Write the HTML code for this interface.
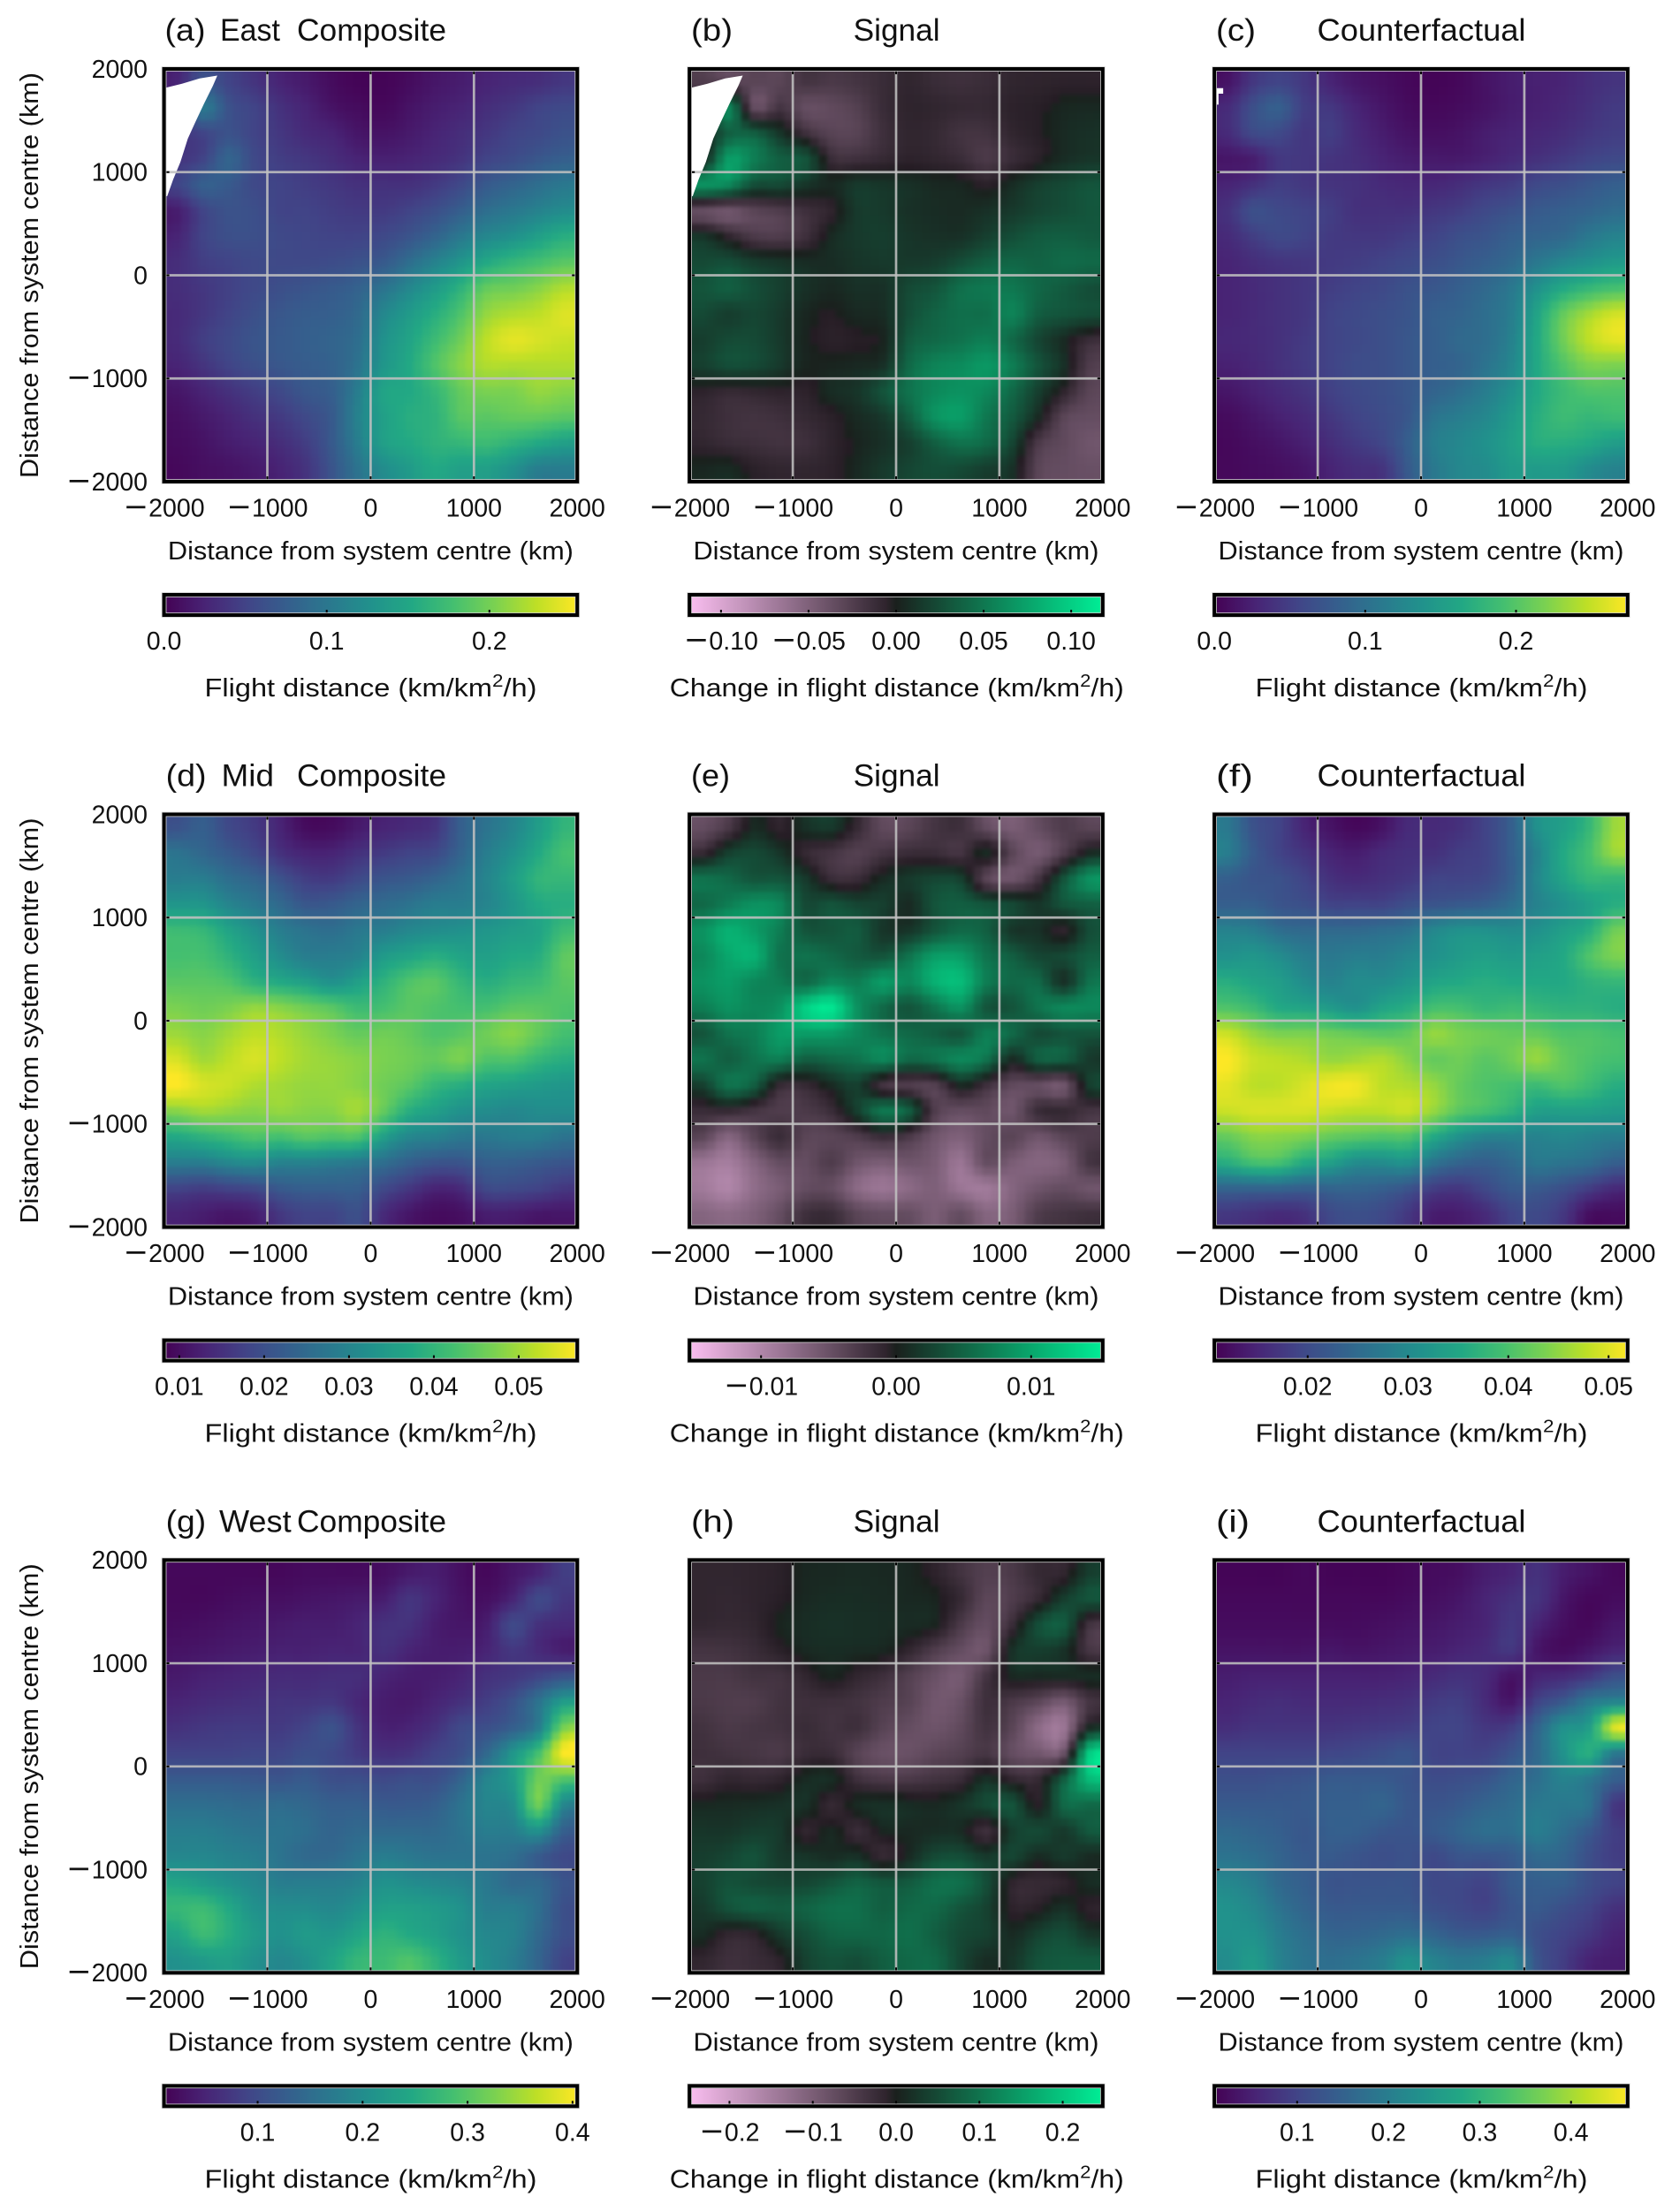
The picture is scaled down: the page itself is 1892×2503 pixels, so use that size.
<!DOCTYPE html>
<html lang="en">
<head>
<meta charset="utf-8">
<title>Flight distance composites</title>
<style>
html,body{margin:0;padding:0;background:#fff;}
svg{display:block;}
text{font-family:"Liberation Sans",sans-serif;fill:#111;}
.title{font-size:35px;}
.label{font-size:29px;}
.tick{font-size:28.5px;}
</style>
</head>
<body>
<svg id="figure" xmlns="http://www.w3.org/2000/svg" width="1892" height="2503" viewBox="0 0 1892 2503">
<rect x="0" y="0" width="1892" height="2503" fill="#fff"/>
<defs>
<filter id="soften" filterUnits="userSpaceOnUse" x="0" y="0" width="1892" height="2503" color-interpolation-filters="sRGB"><feGaussianBlur stdDeviation="2.5"/></filter>
</defs>
<g id="plots"></g>

<!-- Row 1 -->
<text class="title" x="186.5" y="46" textLength="46" lengthAdjust="spacingAndGlyphs">(a)</text>
<text class="title" x="249" y="46" textLength="68" lengthAdjust="spacingAndGlyphs">East</text>
<text class="title" x="336" y="46" textLength="169" lengthAdjust="spacingAndGlyphs">Composite</text>
<text class="title" x="782" y="46" textLength="47" lengthAdjust="spacingAndGlyphs">(b)</text>
<text class="title" x="965.6" y="46" textLength="98" lengthAdjust="spacingAndGlyphs">Signal</text>
<text class="title" x="1376" y="46" textLength="45" lengthAdjust="spacingAndGlyphs">(c)</text>
<text class="title" x="1490.5" y="46" textLength="236" lengthAdjust="spacingAndGlyphs">Counterfactual</text>
<text class="label" transform="translate(43,311.5) rotate(-90)" text-anchor="middle" textLength="459" lengthAdjust="spacingAndGlyphs">Distance from system centre (km)</text>
<text class="label" x="419.4" y="633" text-anchor="middle" textLength="459" lengthAdjust="spacingAndGlyphs">Distance from system centre (km)</text>
<text class="label" x="1014" y="633" text-anchor="middle" textLength="459" lengthAdjust="spacingAndGlyphs">Distance from system centre (km)</text>
<text class="label" x="1608" y="633" text-anchor="middle" textLength="459" lengthAdjust="spacingAndGlyphs">Distance from system centre (km)</text>
<text class="label" x="419.5" y="788" text-anchor="middle" textLength="376" lengthAdjust="spacingAndGlyphs">Flight distance (km/km<tspan dy="-11" font-size="20">2</tspan><tspan dy="11">/h)</tspan></text>
<text class="label" x="1014.8" y="788" text-anchor="middle" textLength="514" lengthAdjust="spacingAndGlyphs">Change in flight distance (km/km<tspan dy="-11" font-size="20">2</tspan><tspan dy="11">/h)</tspan></text>
<text class="label" x="1608.5" y="788" text-anchor="middle" textLength="376" lengthAdjust="spacingAndGlyphs">Flight distance (km/km<tspan dy="-11" font-size="20">2</tspan><tspan dy="11">/h)</tspan></text>

<!-- Row 2 -->
<text class="title" x="187.6" y="889.6" textLength="46" lengthAdjust="spacingAndGlyphs">(d)</text>
<text class="title" x="250.5" y="889.6" textLength="59.5" lengthAdjust="spacingAndGlyphs">Mid</text>
<text class="title" x="336" y="889.6" textLength="169" lengthAdjust="spacingAndGlyphs">Composite</text>
<text class="title" x="782" y="889.6" textLength="44" lengthAdjust="spacingAndGlyphs">(e)</text>
<text class="title" x="965.6" y="889.6" textLength="98" lengthAdjust="spacingAndGlyphs">Signal</text>
<text class="title" x="1376" y="889.6" textLength="42" lengthAdjust="spacingAndGlyphs">(f)</text>
<text class="title" x="1490.5" y="889.6" textLength="236" lengthAdjust="spacingAndGlyphs">Counterfactual</text>
<text class="label" transform="translate(43,1155) rotate(-90)" text-anchor="middle" textLength="459" lengthAdjust="spacingAndGlyphs">Distance from system centre (km)</text>
<text class="label" x="419.4" y="1476.6" text-anchor="middle" textLength="459" lengthAdjust="spacingAndGlyphs">Distance from system centre (km)</text>
<text class="label" x="1014" y="1476.6" text-anchor="middle" textLength="459" lengthAdjust="spacingAndGlyphs">Distance from system centre (km)</text>
<text class="label" x="1608" y="1476.6" text-anchor="middle" textLength="459" lengthAdjust="spacingAndGlyphs">Distance from system centre (km)</text>
<text class="label" x="419.5" y="1631.6" text-anchor="middle" textLength="376" lengthAdjust="spacingAndGlyphs">Flight distance (km/km<tspan dy="-11" font-size="20">2</tspan><tspan dy="11">/h)</tspan></text>
<text class="label" x="1014.8" y="1631.6" text-anchor="middle" textLength="514" lengthAdjust="spacingAndGlyphs">Change in flight distance (km/km<tspan dy="-11" font-size="20">2</tspan><tspan dy="11">/h)</tspan></text>
<text class="label" x="1608.5" y="1631.6" text-anchor="middle" textLength="376" lengthAdjust="spacingAndGlyphs">Flight distance (km/km<tspan dy="-11" font-size="20">2</tspan><tspan dy="11">/h)</tspan></text>

<!-- Row 3 -->
<text class="title" x="187.6" y="1733.3" textLength="45.5" lengthAdjust="spacingAndGlyphs">(g)</text>
<text class="title" x="248" y="1733.3" textLength="81.6" lengthAdjust="spacingAndGlyphs">West</text>
<text class="title" x="336" y="1733.3" textLength="169" lengthAdjust="spacingAndGlyphs">Composite</text>
<text class="title" x="782" y="1733.3" textLength="49" lengthAdjust="spacingAndGlyphs">(h)</text>
<text class="title" x="965.6" y="1733.3" textLength="98" lengthAdjust="spacingAndGlyphs">Signal</text>
<text class="title" x="1376" y="1733.3" textLength="38" lengthAdjust="spacingAndGlyphs">(i)</text>
<text class="title" x="1490.5" y="1733.3" textLength="236" lengthAdjust="spacingAndGlyphs">Counterfactual</text>
<text class="label" transform="translate(43,1998.8) rotate(-90)" text-anchor="middle" textLength="459" lengthAdjust="spacingAndGlyphs">Distance from system centre (km)</text>
<text class="label" x="419.4" y="2320.3" text-anchor="middle" textLength="459" lengthAdjust="spacingAndGlyphs">Distance from system centre (km)</text>
<text class="label" x="1014" y="2320.3" text-anchor="middle" textLength="459" lengthAdjust="spacingAndGlyphs">Distance from system centre (km)</text>
<text class="label" x="1608" y="2320.3" text-anchor="middle" textLength="459" lengthAdjust="spacingAndGlyphs">Distance from system centre (km)</text>
<text class="label" x="419.5" y="2475.3" text-anchor="middle" textLength="376" lengthAdjust="spacingAndGlyphs">Flight distance (km/km<tspan dy="-11" font-size="20">2</tspan><tspan dy="11">/h)</tspan></text>
<text class="label" x="1014.8" y="2475.3" text-anchor="middle" textLength="514" lengthAdjust="spacingAndGlyphs">Change in flight distance (km/km<tspan dy="-11" font-size="20">2</tspan><tspan dy="11">/h)</tspan></text>
<text class="label" x="1608.5" y="2475.3" text-anchor="middle" textLength="376" lengthAdjust="spacingAndGlyphs">Flight distance (km/km<tspan dy="-11" font-size="20">2</tspan><tspan dy="11">/h)</tspan></text>
</svg>

<script>
// Axis ticks (km)
const xTickValues = [-2000, -1000, 0, 1000, 2000];
const yTickValues = [-2000, -1000, 0, 1000, 2000];

// Colour ranges and colour bar tick labels (km/km2/h)
const rangeA = [0, 0.254];
const rangeB = [-0.118, 0.118];
const rangeC = [0, 0.274];
const rangeD = [0.0082, 0.0569];
const rangeE = [-0.0153, 0.0153];
const rangeF = [0.0107, 0.0519];
const rangeG = [0.0108, 0.4045];
const rangeH = [-0.248, 0.248];
const rangeI = [0.0094, 0.462];
const ticksA = ["0.0", "0.1", "0.2"];
const ticksB = ["-0.10", "-0.05", "0.00", "0.05", "0.10"];
const ticksC = ["0.0", "0.1", "0.2"];
const ticksD = ["0.01", "0.02", "0.03", "0.04", "0.05"];
const ticksE = ["-0.01", "0.00", "0.01"];
const ticksF = ["0.02", "0.03", "0.04", "0.05"];
const ticksG = ["0.1", "0.2", "0.3", "0.4"];
const ticksH = ["-0.2", "-0.1", "0.0", "0.1", "0.2"];
const ticksI = ["0.1", "0.2", "0.3", "0.4"];

// Areas with no data, as [x km, y km] outlines
const noDataA = [[-2000,1814],[-1826,1856],[-1655,1908],[-1484,1936],[-1527,1836],[-1612,1665],[-1698,1482],[-1770,1323],[-1841,1098],[-1912,927],[-1969,767],[-2000,767]];
const noDataB = [[-2000,1814],[-1826,1856],[-1655,1908],[-1484,1936],[-1527,1836],[-1612,1665],[-1698,1482],[-1770,1323],[-1841,1098],[-1912,927],[-1969,767],[-2000,767]];
const noDataC = [[-2000,1814],[-1915,1814],[-1915,1760],[-1960,1760],[-1960,1654],[-2000,1654]];

// Field values, as percent of each panel's colour range (composite panels: 0 = vmin, 100 = vmax;
// signal panels: -100 = -vmax, 100 = +vmax). Rows run north to south, columns west to east, 250 km cells.
const valuesA = [
[10,25,20,15,10,7,3,1,1,3,6,8,10,12,13,16],
[15,40,25,20,14,10,5,3,2,5,8,10,13,16,20,22],
[15,20,25,20,16,12,10,6,5,7,10,13,16,20,22,25],
[15,20,32,22,18,16,13,10,9,10,12,15,20,23,27,30],
[20,30,28,22,20,18,16,14,14,14,17,22,28,32,36,40],
[8,20,25,24,20,20,18,17,17,20,24,30,36,40,44,48],
[10,20,24,24,22,21,20,20,22,26,32,40,46,50,56,62],
[13,18,20,22,22,22,23,25,28,36,44,52,60,66,70,74],
[13,16,19,22,24,26,28,31,38,46,54,64,76,78,82,88],
[12,16,20,24,27,29,30,34,46,54,62,72,84,88,90,95],
[12,18,22,26,28,30,32,36,50,58,68,78,90,96,94,92],
[10,15,20,24,27,29,31,38,52,60,72,82,88,88,88,88],
[6,10,14,18,22,27,30,42,58,60,66,76,80,80,84,82],
[4,7,10,14,17,22,28,44,56,62,64,74,74,76,76,74],
[3,5,8,10,13,18,28,42,56,60,64,66,68,64,60,56],
[2,4,5,7,10,15,26,38,48,54,60,56,56,50,42,42]];
const valuesB = [
[-20,-25,-25,-25,-15,-18,-15,-10,-6,-10,-12,-10,-6,-5,-4,-4],
[0,50,-30,-15,-30,-28,-22,-10,-5,-6,-8,-8,-4,-2,3,4],
[0,30,30,10,-12,-24,-24,-12,-6,-8,-14,-14,-6,-2,5,8],
[0,60,45,30,25,-10,-12,-8,-4,-6,-10,-18,-10,-3,6,10],
[55,50,22,20,10,4,12,10,8,4,3,-3,6,15,20,25],
[-30,-35,-25,-20,-12,-5,12,12,8,6,5,8,12,18,22,26],
[10,-5,-18,-20,-12,5,12,14,10,8,8,15,22,28,30,28],
[20,22,14,10,6,6,10,12,12,14,22,30,34,32,36,35],
[25,30,22,15,8,4,8,8,20,25,38,42,42,34,28,22],
[20,14,18,12,3,-1,4,6,22,32,38,38,48,30,25,22],
[14,20,20,12,2,-3,-1,2,28,35,40,45,35,18,5,-10],
[15,22,20,12,2,2,4,8,35,48,52,58,45,25,8,-20],
[-4,-8,-6,-4,-4,6,10,25,40,50,55,50,35,15,-5,-25],
[-8,-12,-14,-12,-8,-3,5,12,30,55,60,42,28,5,-25,-30],
[-6,-10,-12,-14,-12,-5,2,8,15,30,40,35,18,-18,-28,-35],
[3,5,-3,-6,-6,-4,4,12,18,22,20,14,8,-25,-30,-32]];
const valuesC = [
[5,16,20,16,10,6,4,2,1,2,5,8,9,10,13,15],
[12,24,30,18,16,10,6,3,2,3,5,8,9,11,14,17],
[12,22,22,16,18,12,8,5,4,5,8,10,11,13,16,18],
[6,8,16,16,15,13,10,8,7,7,9,12,14,17,20,22],
[10,14,18,16,15,14,12,11,11,13,16,18,22,24,27,30],
[14,24,22,20,18,14,14,14,16,18,22,25,28,30,32,35],
[12,18,22,20,17,16,16,18,20,24,26,30,32,34,40,44],
[10,13,15,16,17,18,20,22,24,27,30,34,40,46,50,54],
[10,12,14,16,18,20,22,25,27,30,34,40,50,60,66,70],
[10,12,14,16,20,22,24,26,30,32,36,42,58,76,86,93],
[11,12,14,17,20,22,24,27,30,34,36,44,60,78,90,96],
[9,11,14,17,20,23,24,27,30,32,38,46,60,72,80,80],
[6,9,12,15,19,22,24,27,32,36,42,50,60,68,72,72],
[3,6,9,12,16,20,23,27,38,42,46,54,62,68,66,68],
[2,4,6,9,13,17,21,30,42,46,50,56,62,62,60,55],
[2,3,4,6,10,13,15,28,40,46,48,54,54,54,48,44]];
const valuesD = [
[25,30,22,17,10,3,3,7,10,12,15,30,38,45,55,65],
[38,33,28,22,14,10,10,14,17,20,22,32,42,50,60,70],
[42,42,36,32,25,18,17,22,26,28,32,38,45,55,65,66],
[52,52,45,40,34,27,28,32,35,38,42,42,45,52,60,62],
[68,66,58,50,42,38,36,40,42,46,48,50,52,55,58,68],
[70,70,64,56,48,42,42,44,54,58,62,58,56,60,62,75],
[74,74,72,64,60,56,50,56,64,72,74,66,62,66,68,74],
[80,78,80,84,82,78,74,68,70,74,72,70,70,74,74,72],
[85,82,86,90,88,84,80,76,78,76,72,74,78,82,76,70],
[94,86,90,94,90,86,84,82,80,78,76,80,72,72,66,62],
[100,94,92,88,86,84,84,82,78,74,66,62,58,56,54,52],
[82,86,84,82,84,82,82,86,76,62,56,50,48,46,48,48],
[60,64,68,72,70,74,72,72,56,46,44,40,40,42,42,38],
[42,42,46,48,44,44,42,40,36,30,26,26,30,30,28,26],
[20,18,20,22,28,30,30,30,22,16,10,12,22,22,20,16],
[10,8,6,8,16,20,20,24,12,6,3,4,8,8,6,6]];
const valuesE = [
[-30,-18,5,-5,8,12,-8,-28,-25,-15,-12,-30,-40,-30,-20,-25],
[-8,15,20,10,-8,-15,-22,-15,-10,-10,-15,5,-25,-38,-20,5],
[40,35,25,25,12,-10,-10,5,12,18,15,-25,-35,-15,25,55],
[35,45,55,50,20,25,18,15,5,25,30,25,20,10,25,30],
[55,70,60,45,25,25,28,10,10,25,35,30,10,8,-5,22],
[50,65,70,40,40,35,28,25,40,60,60,40,30,18,20,30],
[55,60,50,45,35,50,45,60,50,70,75,45,35,35,8,40],
[45,55,50,55,85,95,55,35,25,40,55,25,25,40,50,50],
[25,40,45,60,60,60,50,40,35,30,25,45,35,20,25,25],
[40,30,40,45,30,35,40,50,35,40,50,40,5,30,30,12],
[15,40,30,-8,-8,5,15,-15,-20,-22,5,-12,-28,-30,-35,15],
[-10,-8,-15,-20,-18,-10,15,42,30,-20,-30,-28,-35,-10,-8,-15],
[-25,-45,-25,-10,-25,-25,-20,-10,-18,-35,-42,-30,-25,-35,-25,-20],
[-55,-60,-45,-30,-30,-20,-35,-40,-35,-40,-55,-30,-40,-45,-40,-15],
[-58,-65,-50,-40,-30,-30,-48,-55,-48,-42,-55,-58,-45,-35,-30,-35],
[-45,-48,-42,-30,-12,-10,-25,-30,-30,-40,-30,-45,-40,-20,-15,-12]];
const valuesF = [
[40,25,20,10,5,2,5,12,12,14,20,30,50,56,66,85],
[42,28,20,15,10,8,12,14,14,18,20,30,44,60,70,85],
[30,26,25,20,14,12,14,16,20,20,22,30,46,58,66,66],
[30,30,26,24,20,20,20,24,26,28,30,36,44,50,56,62],
[44,42,36,34,34,34,36,38,46,50,50,48,50,56,62,78],
[50,52,48,42,40,42,42,46,50,54,56,54,56,60,72,80],
[62,58,55,48,44,48,48,52,58,60,62,60,60,60,64,66],
[72,68,60,58,54,50,58,62,70,70,66,68,66,64,64,62],
[92,84,80,80,78,76,74,76,84,80,78,76,76,72,72,70],
[100,92,90,88,84,86,88,82,76,78,74,78,84,76,72,70],
[96,90,90,94,98,98,90,88,84,76,72,70,68,72,68,62],
[92,94,94,94,92,90,90,92,84,74,70,64,56,56,56,54],
[76,82,82,80,76,74,72,72,60,50,44,44,44,46,44,42],
[62,70,70,60,56,48,48,50,38,32,30,34,40,38,36,30],
[32,32,32,30,32,32,30,26,18,16,22,28,28,24,18,12],
[16,14,12,14,22,24,22,16,8,8,12,20,22,16,4,3]];
const valuesG = [
[2,2,2,2,2,3,3,3,4,7,8,4,2,6,10,18],
[2,2,3,4,4,5,6,7,8,15,10,5,4,10,22,16],
[3,4,5,6,7,8,8,10,14,14,8,6,8,22,14,12],
[5,6,7,8,9,9,10,10,14,10,8,8,10,16,12,8],
[7,9,10,11,12,12,13,13,10,8,8,10,14,16,20,25],
[10,12,13,14,15,15,16,11,8,7,10,14,18,25,38,55],
[14,16,17,17,17,20,25,15,9,10,14,22,24,30,42,80],
[20,20,20,21,21,24,22,17,14,15,20,24,34,52,70,100],
[28,28,28,27,26,28,24,24,22,24,24,32,45,54,78,72],
[36,36,35,34,35,33,30,30,28,28,30,38,45,48,78,45],
[42,42,40,38,38,36,32,34,34,34,34,38,42,42,50,30],
[46,46,44,42,38,34,34,38,42,40,38,38,38,36,28,22],
[58,54,50,46,42,42,42,44,50,48,46,44,40,34,34,26],
[66,68,60,50,48,48,46,50,56,56,54,50,42,42,36,24],
[58,68,62,54,50,54,52,58,64,60,56,50,46,44,34,24],
[50,54,56,50,46,50,58,66,68,72,64,54,48,42,32,20]];
const valuesH = [
[-6,-6,-5,-3,3,4,5,4,3,-4,-14,-22,-18,-8,-6,14],
[-6,-7,-5,-2,4,6,6,5,4,2,-8,-26,-20,-8,14,25],
[-7,-8,-6,2,6,8,7,6,5,2,-18,-30,-10,22,28,-14],
[-15,-14,-10,-3,4,6,5,3,-6,-20,-30,-34,8,14,8,-16],
[-18,-18,-14,-14,-6,2,-6,-12,-22,-32,-38,-15,4,4,5,6],
[-18,-20,-20,-14,-12,-12,-14,-20,-24,-36,-32,-12,-18,-26,-38,-15],
[-14,-18,-16,-14,-10,-14,-12,-24,-30,-34,-28,-14,-25,-48,-55,5],
[-12,-14,-16,-18,-10,-10,-24,-32,-32,-26,-22,-16,-30,-36,-32,85],
[-12,-6,-8,-5,5,6,-12,-18,-18,-14,-10,8,-6,-8,30,75],
[4,5,6,8,8,-8,5,8,6,4,10,20,25,-2,35,35],
[10,10,14,12,-6,4,-10,3,4,6,5,-12,14,20,12,28],
[14,18,24,12,10,6,8,-8,5,20,22,12,18,5,12,5],
[16,24,20,18,18,25,32,26,28,38,38,22,-5,-8,-5,6],
[12,24,30,28,32,38,38,30,35,35,25,16,-4,-2,8,-4],
[6,-6,-4,12,22,32,34,34,38,30,20,16,5,16,22,10],
[-6,-12,-10,-4,16,24,22,30,35,35,18,6,10,24,28,28]];
const valuesI = [
[1,1,1,2,1,1,1,2,3,4,8,10,14,8,5,2],
[2,2,2,2,2,2,2,3,4,6,10,14,15,6,2,3],
[3,3,3,3,3,3,4,5,6,8,10,16,10,4,2,6],
[5,5,5,5,6,5,6,7,8,10,12,16,6,3,6,10],
[8,9,9,9,9,9,9,10,12,14,12,5,10,12,16,24],
[10,12,13,12,12,12,13,14,17,18,12,6,20,28,40,45],
[13,15,15,15,15,16,17,18,20,20,16,18,32,50,55,95],
[20,20,20,20,21,22,24,26,20,20,20,26,34,50,62,40],
[24,24,25,26,28,28,28,26,23,24,26,32,36,44,40,30],
[28,28,28,28,30,30,32,27,26,28,32,35,40,40,38,16],
[34,32,30,27,30,30,27,26,28,32,36,36,42,36,28,18],
[38,36,32,28,28,26,24,25,22,26,26,28,34,32,24,18],
[46,42,34,30,26,26,26,26,22,22,20,28,30,30,24,20],
[50,46,38,32,28,28,28,28,24,22,20,26,28,24,20,14],
[50,50,42,36,32,32,34,36,32,28,28,30,24,20,16,10],
[48,54,44,38,36,38,42,50,44,40,42,46,26,18,10,8]];

// Colour maps
const viridisStops = [[68,1,84],[72,36,117],[65,68,135],[53,95,141],[42,120,142],[33,145,140],[34,168,132],[68,191,112],[122,209,81],[189,223,38],[253,231,37]];
function viridis(t) {
  t = Math.max(0, Math.min(1, t)) * (viridisStops.length - 1);
  const i = Math.min(viridisStops.length - 2, Math.floor(t));
  const f = t - i;
  const a = viridisStops[i], b = viridisStops[i + 1];
  return 'rgb(' + [0, 1, 2].map(k => Math.round(a[k] + (b[k] - a[k]) * f)).join(',') + ')';
}
function signal(t) {
  t = Math.max(-1, Math.min(1, t));
  const a = t < 0 ? [36, 28, 35] : [26, 32, 29];
  const b = t < 0 ? [250, 190, 240] : [0, 238, 150];
  const f = Math.abs(t);
  return 'rgb(' + [0, 1, 2].map(k => Math.round(a[k] + (b[k] - a[k]) * f)).join(',') + ')';
}

// Layout
const SVGNS = 'http://www.w3.org/2000/svg';
const plotWidth = 467.6, plotHeight = 467, cbarHeight = 23;
const columnLefts = [185.6, 780.2, 1374.2];
const rowTops = [78, 921.5, 1765.3];
const cbarTops = [673, 1516.6, 2360.3];
const panels = [
  {id:'a', col:0, row:0, values:valuesA, kind:'seq', range:rangeA, ticks:ticksA, noData:noDataA},
  {id:'b', col:1, row:0, values:valuesB, kind:'div', range:rangeB, ticks:ticksB, noData:noDataB},
  {id:'c', col:2, row:0, values:valuesC, kind:'seq', range:rangeC, ticks:ticksC, noData:noDataC},
  {id:'d', col:0, row:1, values:valuesD, kind:'seq', range:rangeD, ticks:ticksD},
  {id:'e', col:1, row:1, values:valuesE, kind:'div', range:rangeE, ticks:ticksE},
  {id:'f', col:2, row:1, values:valuesF, kind:'seq', range:rangeF, ticks:ticksF},
  {id:'g', col:0, row:2, values:valuesG, kind:'seq', range:rangeG, ticks:ticksG},
  {id:'h', col:1, row:2, values:valuesH, kind:'div', range:rangeH, ticks:ticksH},
  {id:'i', col:2, row:2, values:valuesI, kind:'seq', range:rangeI, ticks:ticksI}
];

function make(tag, parent) {
  const el = document.createElementNS(SVGNS, tag);
  parent.appendChild(el);
  return el;
}
function setLine(el, x1, y1, x2, y2, stroke, width) {
  el.setAttribute('x1', x1);
  el.setAttribute('y1', y1);
  el.setAttribute('x2', x2);
  el.setAttribute('y2', y2);
  el.setAttribute('stroke', stroke);
  el.setAttribute('stroke-width', width);
}
function setRect(el, x, y, w, h) {
  el.setAttribute('x', x);
  el.setAttribute('y', y);
  el.setAttribute('width', w);
  el.setAttribute('height', h);
}
function writeNumber(el, str) {
  // real minus glyph, sized to the long dash of the original typesetting
  const negative = str.charAt(0) === '-';
  if (negative) {
    const m = make('tspan', el);
    m.setAttribute('style', 'font-family:"DejaVu Sans",sans-serif;font-size:34px');
    
    
    m.textContent = '\u2212';
  }
  const d = make('tspan', el);
  
  
  d.textContent = negative ? str.slice(1) : str;
}
function catmull(p0, p1, p2, p3, f) {
  return 0.5 * (2 * p1 + (p2 - p0) * f + (2 * p0 - 5 * p1 + 4 * p2 - p3) * f * f + (3 * p1 - p0 - 3 * p2 + p3) * f * f * f);
}
function sampleField(values, gx, gy) {
  const nR = values.length, nC = values[0].length;
  const at = (r, c) => values[Math.max(0, Math.min(nR - 1, r))][Math.max(0, Math.min(nC - 1, c))];
  const c0 = Math.floor(gx), r0 = Math.floor(gy);
  const fx = gx - c0, fy = gy - r0;
  const rows = [-1, 0, 1, 2].map(dr => catmull(at(r0 + dr, c0 - 1), at(r0 + dr, c0), at(r0 + dr, c0 + 1), at(r0 + dr, c0 + 2), fx));
  return catmull(rows[0], rows[1], rows[2], rows[3], fy);
}

const plots = document.getElementById('plots');
const defs = document.querySelector('defs');
const drawSteps = 48;

panels.forEach(p => {
  const left = columnLefts[p.col], top = rowTops[p.row];
  const xScale = km => left + (km + 2000) / 4000 * plotWidth;
  const yScale = km => top + (2000 - km) / 4000 * plotHeight;
  const colour = pct => p.kind === 'seq' ? viridis(pct / 100) : signal(pct / 100);

  const group = make('g', plots);
  
  

  // clip
  const clip = make('clipPath', defs);
  clip.setAttribute('id', 'clip-' + p.id);
  
  
  const clipRect = make('rect', clip);
  setRect(clipRect, left, top, plotWidth, plotHeight);
  
  

  const clipped = make('g', group);
  clipped.setAttribute('clip-path', 'url(#clip-' + p.id + ')');
  
  
  const heat = make('g', clipped);
  heat.setAttribute('filter', 'url(#soften)');
  
  

  const nR = p.values.length, nC = p.values[0].length;
  const cellKm = 4000 / drawSteps;
  for (let j = 0; j < drawSteps; j++) {
    for (let i = 0; i < drawSteps; i++) {
      const xKm = -2000 + (i + 0.5) * cellKm;
      const yKm = 2000 - (j + 0.5) * cellKm;
      const gx = (xKm + 2000) / 4000 * nC - 0.5;
      const gy = (2000 - yKm) / 4000 * nR - 0.5;
      const v = sampleField(p.values, gx, gy);
      const x0 = xScale(xKm - cellKm / 2) - (i === 0 ? 12 : 0);
      const y0 = yScale(yKm + cellKm / 2) - (j === 0 ? 12 : 0);
      const x1 = xScale(xKm + cellKm / 2) + (i === drawSteps - 1 ? 12 : 0.6);
      const y1 = yScale(yKm - cellKm / 2) + (j === drawSteps - 1 ? 12 : 0.6);
      const cell = make('rect', heat);
      setRect(cell, x0, y0, x1 - x0, y1 - y0);
      cell.setAttribute('fill', colour(v));
      
      
    }
  }

  if (p.noData) {
    const hole = make('polygon', clipped);
    hole.setAttribute('points', p.noData.map(q => xScale(q[0]) + ',' + yScale(q[1])).join(' '));
    hole.setAttribute('fill', '#fff');
    
    
  }

  // grid
  xTickValues.slice(1, -1).forEach(v => {
    const l = make('line', group);
    setLine(l, xScale(v), top, xScale(v), top + plotHeight, 'rgba(192,192,192,0.88)', 2.7);
    
    
  });
  yTickValues.slice(1, -1).forEach(v => {
    const l = make('line', group);
    setLine(l, left, yScale(v), left + plotWidth, yScale(v), 'rgba(192,192,192,0.88)', 2.7);
    
    
  });
  // inward ticks on all four sides
  xTickValues.slice(1, -1).forEach(v => {
    const t1 = make('line', group);
    setLine(t1, xScale(v), top, xScale(v), top + 6, '#000', 2);
    
    
    const t2 = make('line', group);
    setLine(t2, xScale(v), top + plotHeight - 6, xScale(v), top + plotHeight, '#000', 2);
    
    
  });
  yTickValues.slice(1, -1).forEach(v => {
    const t1 = make('line', group);
    setLine(t1, left, yScale(v), left + 6, yScale(v), '#000', 2);
    
    
    const t2 = make('line', group);
    setLine(t2, left + plotWidth - 6, yScale(v), left + plotWidth, yScale(v), '#000', 2);
    
    
  });
  // frame
  const halo = make('rect', group);
  setRect(halo, left, top, plotWidth, plotHeight);
  halo.setAttribute('fill', 'none');
  halo.setAttribute('stroke', '#cfcfcf');
  halo.setAttribute('stroke-width', '5.6');
  
  
  const frame = make('rect', group);
  setRect(frame, left, top, plotWidth, plotHeight);
  frame.setAttribute('fill', 'none');
  frame.setAttribute('stroke', '#000');
  frame.setAttribute('stroke-width', '4');
  
  

  // x tick labels
  xTickValues.forEach(v => {
    const t = make('text', group);
    t.setAttribute('class', 'tick');
    t.setAttribute('x', xScale(v));
    t.setAttribute('y', top + plotHeight + 39.5);
    t.setAttribute('text-anchor', 'middle');
    
    
    writeNumber(t, String(v));
  });
  // y tick labels on first column only
  if (p.col === 0) {
    yTickValues.forEach(v => {
      const t = make('text', group);
      t.setAttribute('class', 'tick');
      t.setAttribute('x', 167);
      t.setAttribute('y', yScale(v) + 9.8);
      t.setAttribute('text-anchor', 'end');
      
      
      writeNumber(t, String(v));
    });
  }

  // colour bar
  const cbTop = cbarTops[p.row];
  const cbScale = v => left + (v - p.range[0]) / (p.range[1] - p.range[0]) * plotWidth;
  const grad = make('linearGradient', defs);
  grad.setAttribute('id', 'cbar-' + p.id);
  
  
  const nStops = 40;
  for (let s = 0; s <= nStops; s++) {
    const f = s / nStops;
    const stop = make('stop', grad);
    stop.setAttribute('offset', f);
    stop.setAttribute('stop-color', p.kind === 'seq' ? viridis(f) : signal(2 * f - 1));
    
    
  }
  const cbRect = make('rect', group);
  setRect(cbRect, left, cbTop, plotWidth, cbarHeight);
  cbRect.setAttribute('fill', 'url(#cbar-' + p.id + ')');
  
  
  p.ticks.forEach(label => {
    const v = Number(label);
    const tk = make('line', group);
    setLine(tk, cbScale(v), cbTop + cbarHeight - 6, cbScale(v), cbTop + cbarHeight, '#000', 2);
    
    
    const t = make('text', group);
    t.setAttribute('class', 'tick');
    t.setAttribute('x', cbScale(v));
    t.setAttribute('y', cbTop + cbarHeight + 39);
    t.setAttribute('text-anchor', 'middle');
    
    
    writeNumber(t, label);
  });
  const cbHalo = make('rect', group);
  setRect(cbHalo, left, cbTop, plotWidth, cbarHeight);
  cbHalo.setAttribute('fill', 'none');
  cbHalo.setAttribute('stroke', '#cfcfcf');
  cbHalo.setAttribute('stroke-width', '5.6');
  
  
  const cbFrame = make('rect', group);
  setRect(cbFrame, left, cbTop, plotWidth, cbarHeight);
  cbFrame.setAttribute('fill', 'none');
  cbFrame.setAttribute('stroke', '#000');
  cbFrame.setAttribute('stroke-width', '4');
  
  
});
</script>
</body>
</html>
